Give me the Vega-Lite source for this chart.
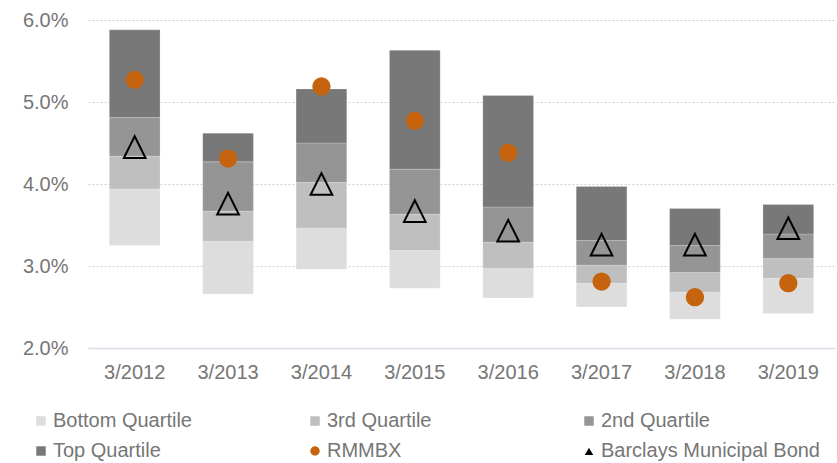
{
  "$schema": "https://vega.github.io/schema/vega-lite/v6.json",
  "width": 747,
  "height": 328,
  "autosize": {"type": "none"},
  "padding": {"left": 88, "top": 20, "right": 2, "bottom": 115},
  "background": "white",
  "config": {
    "view": {"stroke": null},
    "legend": {
      "title": null,
      "orient": "none",
      "legendX": -57,
      "legendY": 391,
      "direction": "horizontal",
      "columns": 3,
      "gridAlign": "all",
      "columnPadding": 33,
      "rowPadding": 10,
      "symbolSize": 120,
      "labelOffset": 2,
      "labelFont": "Liberation Sans",
      "labelFontSize": 20,
      "labelColor": "#767676",
      "labelLimit": 400
    }
  },
  "datasets": {
    "bars": [
      {"year": "3/2012", "series": "Bottom Quartile", "lo": 3.25, "hi": 3.94},
      {"year": "3/2012", "series": "3rd Quartile", "lo": 3.94, "hi": 4.34},
      {"year": "3/2012", "series": "2nd Quartile", "lo": 4.34, "hi": 4.81},
      {"year": "3/2012", "series": "Top Quartile", "lo": 4.81, "hi": 5.88},
      {"year": "3/2013", "series": "Bottom Quartile", "lo": 2.66, "hi": 3.30},
      {"year": "3/2013", "series": "3rd Quartile", "lo": 3.30, "hi": 3.67},
      {"year": "3/2013", "series": "2nd Quartile", "lo": 3.67, "hi": 4.27},
      {"year": "3/2013", "series": "Top Quartile", "lo": 4.27, "hi": 4.62},
      {"year": "3/2014", "series": "Bottom Quartile", "lo": 2.96, "hi": 3.46},
      {"year": "3/2014", "series": "3rd Quartile", "lo": 3.46, "hi": 4.02},
      {"year": "3/2014", "series": "2nd Quartile", "lo": 4.02, "hi": 4.50},
      {"year": "3/2014", "series": "Top Quartile", "lo": 4.50, "hi": 5.16},
      {"year": "3/2015", "series": "Bottom Quartile", "lo": 2.73, "hi": 3.19},
      {"year": "3/2015", "series": "3rd Quartile", "lo": 3.19, "hi": 3.63},
      {"year": "3/2015", "series": "2nd Quartile", "lo": 3.63, "hi": 4.18},
      {"year": "3/2015", "series": "Top Quartile", "lo": 4.18, "hi": 5.63},
      {"year": "3/2016", "series": "Bottom Quartile", "lo": 2.61, "hi": 2.97},
      {"year": "3/2016", "series": "3rd Quartile", "lo": 2.97, "hi": 3.29},
      {"year": "3/2016", "series": "2nd Quartile", "lo": 3.29, "hi": 3.72},
      {"year": "3/2016", "series": "Top Quartile", "lo": 3.72, "hi": 5.08},
      {"year": "3/2017", "series": "Bottom Quartile", "lo": 2.50, "hi": 2.79},
      {"year": "3/2017", "series": "3rd Quartile", "lo": 2.79, "hi": 3.01},
      {"year": "3/2017", "series": "2nd Quartile", "lo": 3.01, "hi": 3.31},
      {"year": "3/2017", "series": "Top Quartile", "lo": 3.31, "hi": 3.97},
      {"year": "3/2018", "series": "Bottom Quartile", "lo": 2.35, "hi": 2.68},
      {"year": "3/2018", "series": "3rd Quartile", "lo": 2.68, "hi": 2.92},
      {"year": "3/2018", "series": "2nd Quartile", "lo": 2.92, "hi": 3.25},
      {"year": "3/2018", "series": "Top Quartile", "lo": 3.25, "hi": 3.70},
      {"year": "3/2019", "series": "Bottom Quartile", "lo": 2.42, "hi": 2.85},
      {"year": "3/2019", "series": "3rd Quartile", "lo": 2.85, "hi": 3.09},
      {"year": "3/2019", "series": "2nd Quartile", "lo": 3.09, "hi": 3.39},
      {"year": "3/2019", "series": "Top Quartile", "lo": 3.39, "hi": 3.75}
    ],
    "points": [
      {"year": "3/2012", "series": "RMMBX", "value": 5.27},
      {"year": "3/2013", "series": "RMMBX", "value": 4.31},
      {"year": "3/2014", "series": "RMMBX", "value": 5.19},
      {"year": "3/2015", "series": "RMMBX", "value": 4.77},
      {"year": "3/2016", "series": "RMMBX", "value": 4.38},
      {"year": "3/2017", "series": "RMMBX", "value": 2.81},
      {"year": "3/2018", "series": "RMMBX", "value": 2.62},
      {"year": "3/2019", "series": "RMMBX", "value": 2.79},
      {"year": "3/2012", "series": "Barclays Municipal Bond", "value": 4.45},
      {"year": "3/2013", "series": "Barclays Municipal Bond", "value": 3.76},
      {"year": "3/2014", "series": "Barclays Municipal Bond", "value": 4.00},
      {"year": "3/2015", "series": "Barclays Municipal Bond", "value": 3.67},
      {"year": "3/2016", "series": "Barclays Municipal Bond", "value": 3.43},
      {"year": "3/2017", "series": "Barclays Municipal Bond", "value": 3.26},
      {"year": "3/2018", "series": "Barclays Municipal Bond", "value": 3.26},
      {"year": "3/2019", "series": "Barclays Municipal Bond", "value": 3.46}
    ]
  },
  "encoding": {
    "x": {
      "field": "year",
      "type": "nominal",
      "sort": null,
      "scale": {"paddingInner": 0.457, "paddingOuter": 0.2285},
      "axis": {
        "title": null,
        "labelAngle": 0,
        "domain": false,
        "ticks": false,
        "labelFont": "Liberation Sans",
        "labelFontSize": 20,
        "labelColor": "#767676",
        "labelPadding": 14
      }
    }
  },
  "layer": [
    {
      "data": {"name": "bars"},
      "mark": {"type": "bar", "stroke": "#ffffff", "strokeOpacity": 0.25, "strokeWidth": 0.8},
      "encoding": {
        "y": {
          "field": "lo",
          "type": "quantitative",
          "scale": {"domain": [2, 6], "nice": false, "zero": false},
          "axis": {
            "title": null,
            "values": [2, 3, 4, 5, 6],
            "labelExpr": "format(datum.value, '.1f') + '%'",
            "domain": false,
            "ticks": false,
            "labelFont": "Liberation Sans",
            "labelFontSize": 20,
            "labelColor": "#767676",
            "labelPadding": 20,
            "gridColor": {"condition": {"test": "datum.value === 2", "value": "#d9dde8"}, "value": "#d0d0d0"},
            "gridDash": {"condition": {"test": "datum.value === 2", "value": []}, "value": [2, 2]},
            "gridWidth": {"condition": {"test": "datum.value === 2", "value": 1.5}, "value": 1}
          }
        },
        "y2": {"field": "hi"},
        "color": {
          "field": "series",
          "type": "nominal",
          "scale": {
            "domain": ["Bottom Quartile", "3rd Quartile", "2nd Quartile", "Top Quartile", "RMMBX", "Barclays Municipal Bond"],
            "range": ["#dddddd", "#bfbfbf", "#959595", "#787878", "#c5630f", "#000000"]
          }
        },
        "order": {"field": "lo", "type": "quantitative"}
      }
    },
    {
      "data": {"name": "points"},
      "transform": [{"filter": "datum.series === 'RMMBX'"}],
      "mark": {"type": "point", "filled": true, "size": 335, "opacity": 1},
      "encoding": {
        "y": {"field": "value", "type": "quantitative"},
        "color": {"field": "series", "type": "nominal"},
        "shape": {
          "field": "series",
          "type": "nominal",
          "scale": {
            "domain": ["Bottom Quartile", "3rd Quartile", "2nd Quartile", "Top Quartile", "RMMBX", "Barclays Municipal Bond"],
            "range": ["square", "square", "square", "square", "circle", "triangle-up"]
          }
        }
      }
    },
    {
      "data": {"name": "points"},
      "transform": [{"filter": "datum.series === 'Barclays Municipal Bond'"}],
      "mark": {"type": "point", "shape": "M0,-1L1,1L-1,1Z", "filled": false, "size": 470, "stroke": "#000000", "strokeWidth": 2, "fill": null, "opacity": 1},
      "encoding": {
        "y": {"field": "value", "type": "quantitative"}
      }
    }
  ]
}
